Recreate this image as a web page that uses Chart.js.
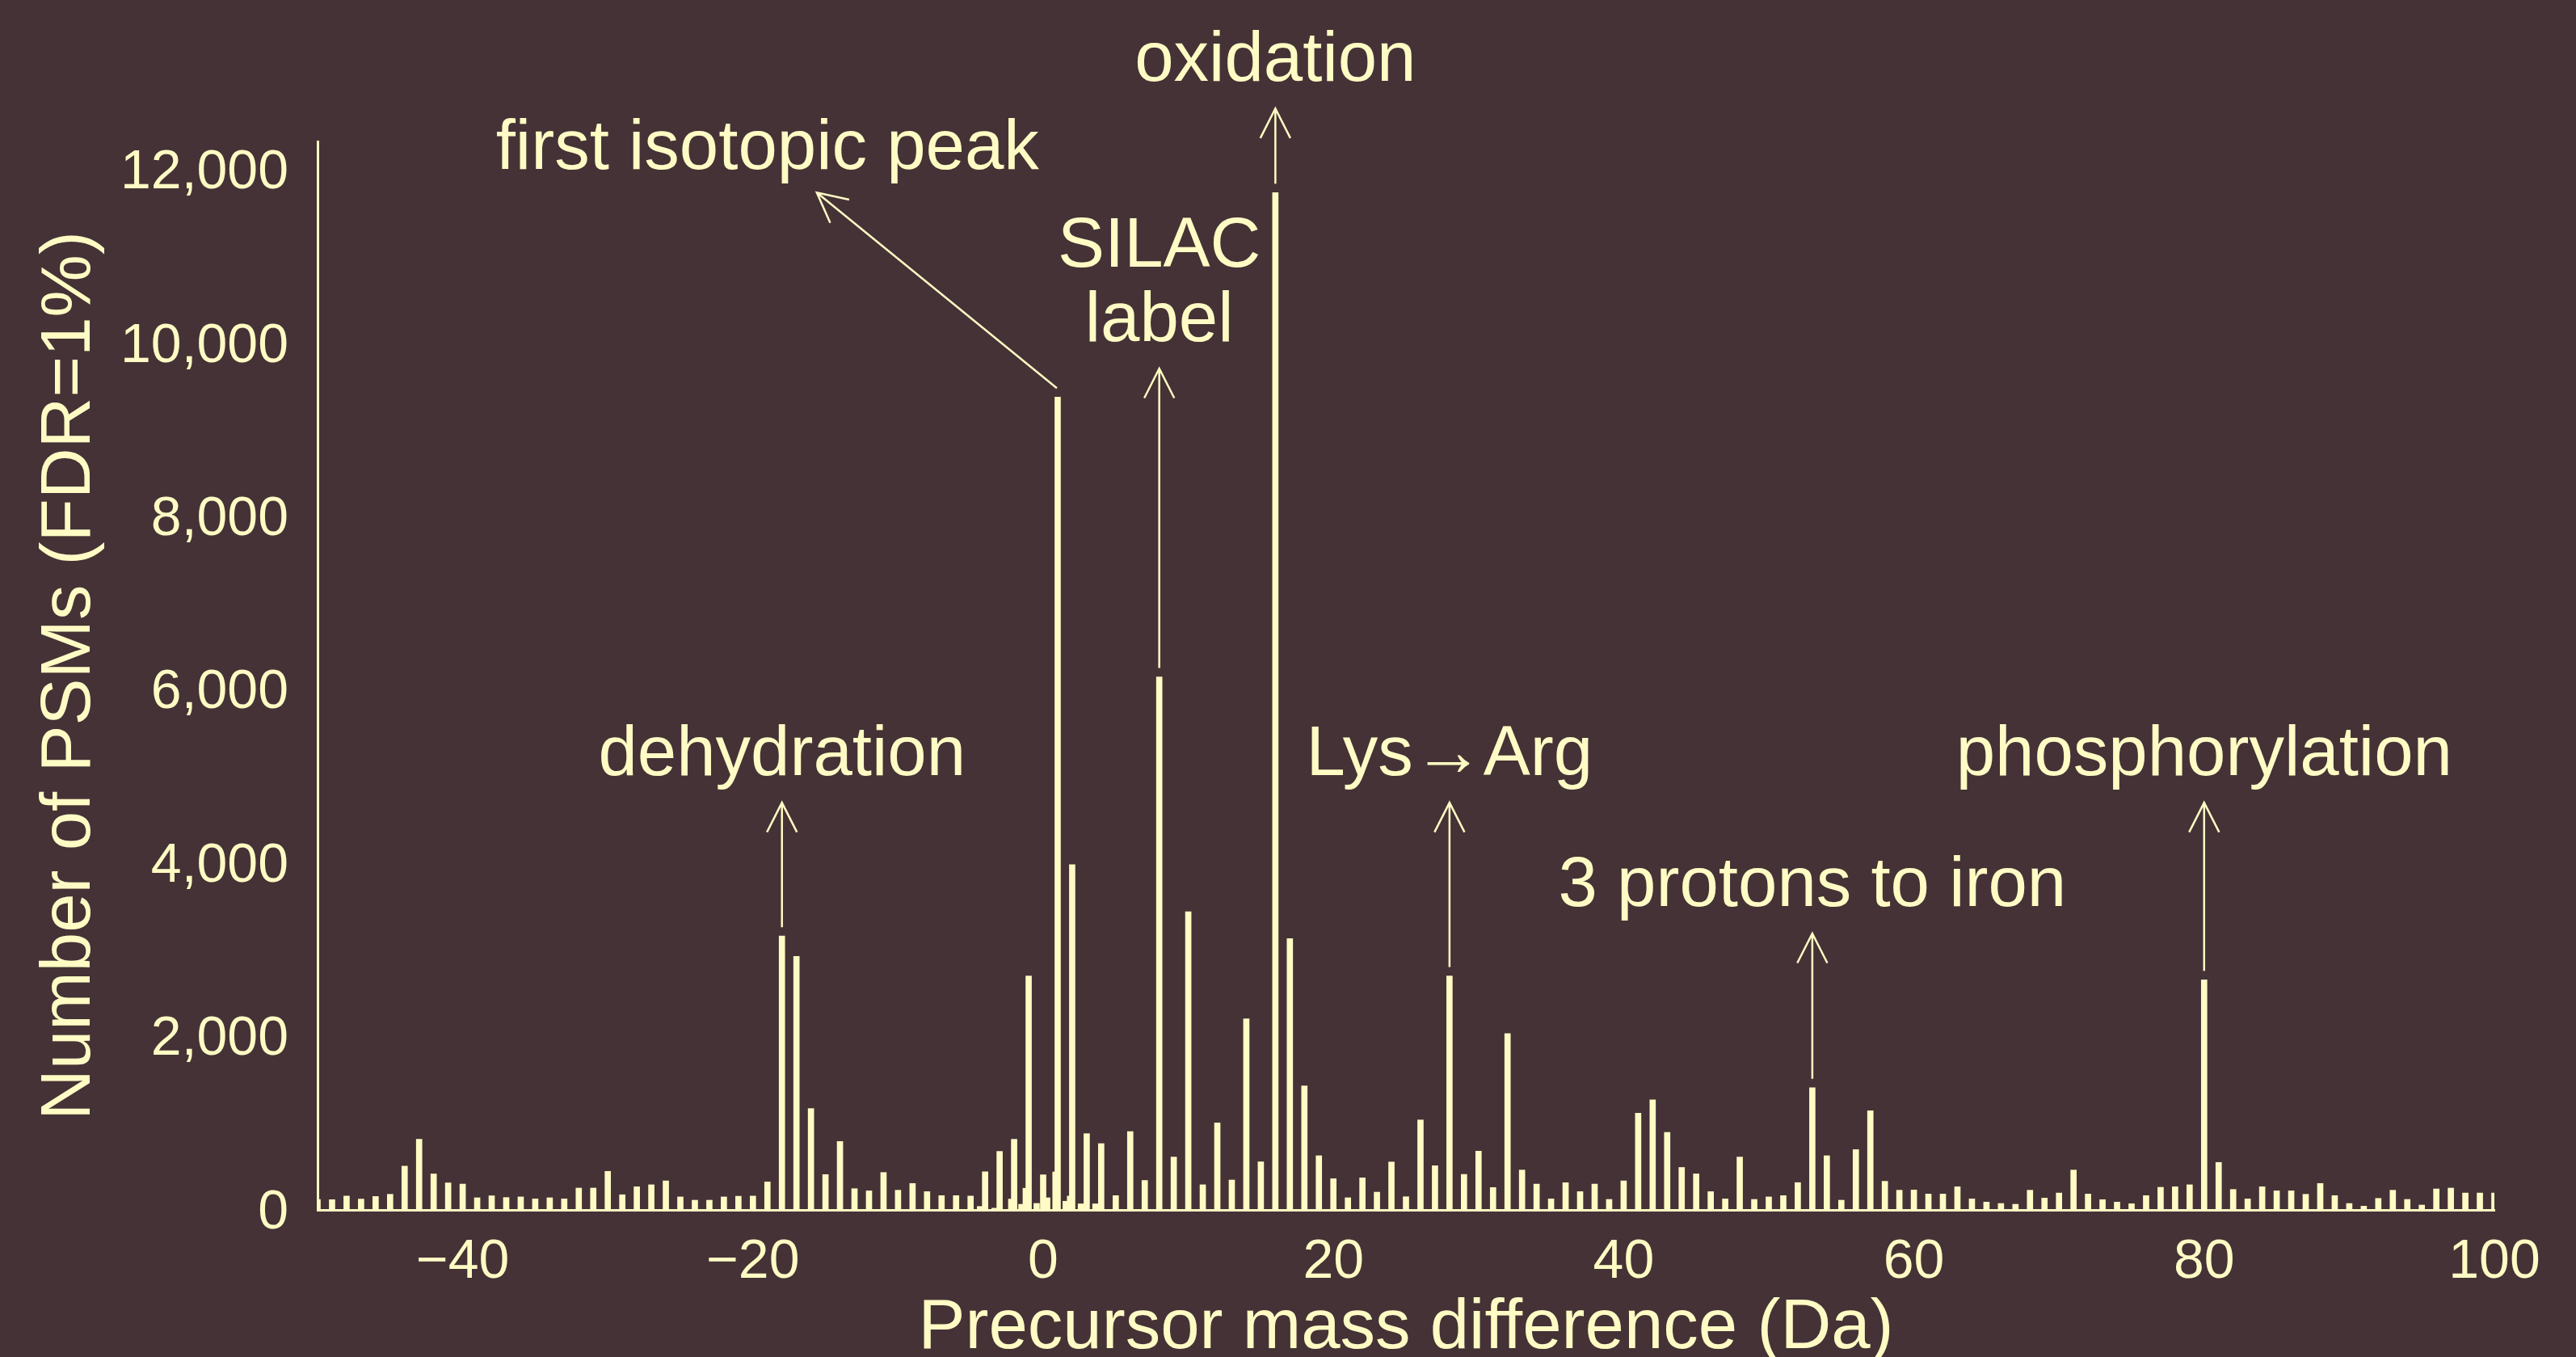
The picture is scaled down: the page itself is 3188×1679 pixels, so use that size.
<!DOCTYPE html>
<html>
<head>
<meta charset="utf-8">
<script src="https://cdn.jsdelivr.net/npm/chart.js@4.4.1/dist/chart.umd.min.js"></script>
<style>
  html, body { margin: 0; padding: 0; background: #453236; }
</style>
</head>
<body>
<canvas id="massChart" width="3188" height="1679"></canvas>
<script>
// precursor mass shift (Da), one bar per integer
const massShifts = [
  -50, -49, -48, -47, -46, -45, -44, -43, -42, -41,
  -40, -39, -38, -37, -36, -35, -34, -33, -32, -31,
  -30, -29, -28, -27, -26, -25, -24, -23, -22, -21,
  -20, -19, -18, -17, -16, -15, -14, -13, -12, -11,
  -10, -9, -8, -7, -6, -5, -4, -3, -2, -1,
  0, 1, 2, 3, 4, 5, 6, 7, 8, 9,
  10, 11, 12, 13, 14, 15, 16, 17, 18, 19,
  20, 21, 22, 23, 24, 25, 26, 27, 28, 29,
  30, 31, 32, 33, 34, 35, 36, 37, 38, 39,
  40, 41, 42, 43, 44, 45, 46, 47, 48, 49,
  50, 51, 52, 53, 54, 55, 56, 57, 58, 59,
  60, 61, 62, 63, 64, 65, 66, 67, 68, 69,
  70, 71, 72, 73, 74, 75, 76, 77, 78, 79,
  80, 81, 82, 83, 84, 85, 86, 87, 88, 89,
  90, 91, 92, 93, 94, 95, 96, 97, 98, 99,
  100
];
const psmCounts = [
  120, 118, 160, 125, 155, 180, 505, 815, 415, 312,
  298, 140, 163, 143, 150, 127, 140, 127, 252, 252,
  445, 175, 267, 290, 335, 150, 112, 112, 150, 158,
  160, 323, 3160, 2925, 1170, 408, 790, 245, 220, 432,
  227, 305, 211, 165, 165, 160, 440, 675, 815, 2700,
  405, 9380, 3985, 880, 765, 165, 905, 340, 6150, 610,
  3440, 290, 1005, 345, 2205, 555, 11740, 3130, 1430, 625,
  360, 140, 370, 205, 553, 152, 1038, 510, 2700, 410,
  678, 258, 2035, 460, 298, 127, 314, 211, 298, 121,
  335, 1115, 1270, 895, 490, 416, 211, 127, 610, 121,
  150, 165, 315, 1410, 625, 112, 696, 1145, 330, 227,
  230, 183, 183, 267, 127, 90, 74, 65, 227, 136,
  195, 460, 183, 118, 90, 71, 165, 261, 267, 290,
  2655, 548, 236, 127, 267, 220, 220, 180, 305, 165,
  74, 43, 133, 227, 121, 56, 242, 252, 195, 195,
  195
];

// the small off-integer bins around zero
const offShifts = [-4.35, -3.35, -2.2, -1.5, -1.2, -0.45, 0.28, 0.85, 1.55, 1.85, 2.6, 3.6];
const offCounts = [40, 20, 125, 65, 250, 75, 140, 438, 100, 160, 70, 70];

const xTicks = [-40, -20, 0, 20, 40, 60, 80, 100];
const yTicks = [0, 2000, 4000, 6000, 8000, 10000, 12000];

// labelled peaks: text, bar it belongs to, where the arrow ends (data units)
const peakNotes = [
  { lines: ['oxidation'], bar: 16, tip: [16, 12710] },
  { lines: ['SILAC', 'label'], bar: 8, tip: [8, 9710] },
  { lines: ['first isotopic peak'], bar: 1, tip: [-15.6, 11740], textX: -19, gap: 29 },
  { lines: ['dehydration'], bar: -18, tip: [-18, 4700] },
  { lines: ['Lys\u2192Arg'], bar: 28, tip: [28, 4700] },
  { lines: ['3 protons to iron'], bar: 53, tip: [53, 3190] },
  { lines: ['phosphorylation'], bar: 80, tip: [80, 4700] }
];

const cream = '#fffbc4';
const fontFamily = '"Liberation Sans", Arial, sans-serif';

function drawArrow(ctx, x0, y0, x1, y1) {
  const a = Math.atan2(y1 - y0, x1 - x0);
  const len = 41, spread = 0.47;
  ctx.beginPath();
  ctx.moveTo(x0, y0);
  ctx.lineTo(x1, y1);
  ctx.moveTo(x1 - len * Math.cos(a - spread), y1 - len * Math.sin(a - spread));
  ctx.lineTo(x1, y1);
  ctx.lineTo(x1 - len * Math.cos(a + spread), y1 - len * Math.sin(a + spread));
  ctx.stroke();
}

const notesPlugin = {
  id: 'peakNotes',
  afterDatasetsDraw(chart) {
    const { ctx, scales: { x, y } } = chart;
    ctx.save();
    ctx.strokeStyle = cream;
    ctx.fillStyle = cream;
    ctx.lineWidth = 2.5;
    ctx.font = '87px ' + fontFamily;
    ctx.textAlign = 'center';
    ctx.textBaseline = 'alphabetic';
    peakNotes.forEach(n => {
      const count = psmCounts[massShifts.indexOf(n.bar)];
      const tailX = x.getPixelForValue(n.bar) - (n.tip[0] === n.bar ? 0 : 1);
      const tailY = y.getPixelForValue(count) - 11;
      const tipX = x.getPixelForValue(n.tip[0]);
      const tipY = y.getPixelForValue(n.tip[1]);
      drawArrow(ctx, tailX, tailY, tipX, tipY);
      const tx = x.getPixelForValue(n.textX !== undefined ? n.textX : n.bar);
      const base = tipY - (n.gap || 34);
      n.lines.forEach((line, i) => {
        ctx.fillText(line, tx, base - (n.lines.length - 1 - i) * 92);
      });
    });
    ctx.restore();
  }
};

Chart.defaults.font.family = fontFamily;
Chart.defaults.color = cream;

new Chart(document.getElementById('massChart'), {
  type: 'bar',
  data: {
    datasets: [{
      data: massShifts.map((m, i) => ({ x: m, y: psmCounts[i] })),
      backgroundColor: cream,
      borderWidth: 0,
      barThickness: 7,
      grouped: false
    }, {
      data: offShifts.map((m, i) => ({ x: m, y: offCounts[i] })),
      backgroundColor: cream,
      borderWidth: 0,
      barThickness: 7,
      grouped: false
    }]
  },
  options: {
    responsive: false,
    animation: false,
    layout: { padding: { top: 175, right: 101, bottom: 0, left: 0 } },
    plugins: { legend: { display: false }, tooltip: { enabled: false } },
    scales: {
      x: {
        type: 'linear',
        min: -50,
        max: 100,
        offset: false,
        grid: { display: false, drawTicks: false },
        border: { display: true, color: cream, width: 3 },
        afterBuildTicks: s => { s.ticks = xTicks.map(v => ({ value: v })); },
        afterFit: s => { s.height = 182; },
        ticks: {
          padding: 24,
          font: { size: 68 },
          color: cream,
          maxRotation: 0,
          callback: v => v < 0 ? '\u2212' + Math.abs(v) : String(v)
        },
        title: {
          display: true,
          text: 'Precursor mass difference (Da)',
          color: cream,
          font: { size: 87 },
          padding: { top: 0, bottom: -17 }
        }
      },
      y: {
        min: 0,
        max: 12330,
        grid: { display: false, drawTicks: false },
        border: { display: true, color: cream, width: 3 },
        afterBuildTicks: s => { s.ticks = yTicks.map(v => ({ value: v })); },
        afterFit: s => { s.width = 393; },
        ticks: {
          padding: 36,
          labelOffset: 4,
          font: { size: 68 },
          color: cream,
          callback: v => v.toLocaleString('en-US')
        },
        title: {
          display: true,
          text: 'Number of PSMs (FDR=1%)',
          color: cream,
          font: { size: 87 },
          padding: { top: 35, bottom: 0 }
        }
      }
    }
  },
  plugins: [notesPlugin]
});
</script>
</body>
</html>
